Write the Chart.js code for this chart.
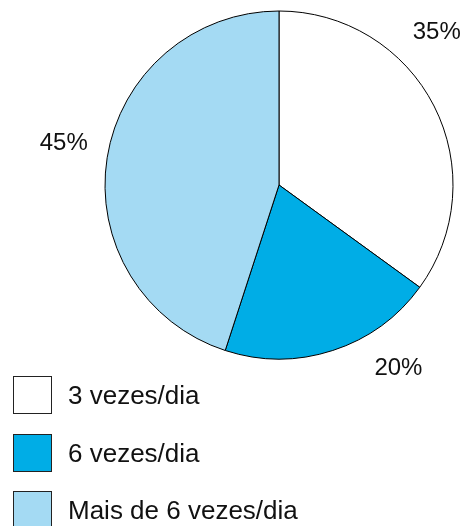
<!DOCTYPE html>
<html>
<head>
<meta charset="utf-8">
<script src="https://cdn.jsdelivr.net/npm/chart.js@4"></script>
<style>
  html, body { margin: 0; padding: 0; background: #fff; }
  #wrap { position: relative; width: 462px; height: 526px; overflow: hidden; }
  #legend { position: absolute; left: 13px; top: 376px; font-family: "Liberation Sans", Arial, sans-serif; font-size: 26px; color: #111; }
  .item { position: absolute; left: 0; height: 38px; white-space: nowrap; }
  .box { position: absolute; left: 0; top: 0; width: 37px; height: 36px; border: 1px solid #222; }
  .txt { position: absolute; left: 55px; top: 3px; line-height: 32px; }
</style>
</head>
<body>
<div id="wrap">
  <canvas id="pieChart" width="462" height="526"></canvas>
  <div id="legend"></div>
</div>
<script>
// dados
let labels = ["3 vezes/dia", "6 vezes/dia", "Mais de 6 vezes/dia"];
let values = [35, 20, 45];
let colors = ["#ffffff", "#00ade6", "#a4daf3"];

// posição dos rótulos (graus a partir do topo, distância em raios)
let labelAngles = [46, 147, 281];
let labelDist = 1.26;

let pctLabels = {
    id: "pctLabels",
    afterDatasetsDraw: function(chart){
        let ctx = chart.ctx;
        let meta = chart.getDatasetMeta(0);
        let arc = meta.data[0];
        ctx.save();
        ctx.font = "24px 'Liberation Sans', Arial, sans-serif";
        ctx.fillStyle = "#111";
        ctx.textAlign = "center";
        ctx.textBaseline = "middle";
        for(let i = 0; i < values.length; i++){
            let a = labelAngles[i] * Math.PI / 180;
            let r = arc.outerRadius * labelDist;
            ctx.fillText(values[i] + "%", arc.x + Math.sin(a) * r, arc.y - Math.cos(a) * r);
        }
        ctx.restore();
    }
};

let renderPieChart = function(component, labels, data){
    let ctx = document.querySelector(component).getContext("2d");
    let myChart = new Chart(ctx, {
        type: "pie",
        data: {
            labels: labels,
            datasets: [{
                backgroundColor: colors,
                borderColor: "#000",
                borderWidth: 1,
                data: data
            }]
        },
        options: {
            responsive: false,
            animation: false,
            radius: 174,
            layout: { padding: { left: 96, right: 0, top: 0, bottom: 156 } },
            plugins: {
                legend: { display: false },
                tooltip: { enabled: false }
            }
        },
        plugins: [pctLabels]
    });
    return myChart;
};

let renderLegend = function(){
    let el = document.getElementById("legend");
    for(let i = 0; i < labels.length; i++){
        let item = document.createElement("div");
        item.className = "item";
        item.style.top = (i * 57.5) + "px";
        let box = document.createElement("div");
        box.className = "box";
        box.style.background = colors[i];
        let txt = document.createElement("div");
        txt.className = "txt";
        txt.textContent = labels[i];
        item.appendChild(box);
        item.appendChild(txt);
        el.appendChild(item);
    }
};

renderPieChart("#pieChart", labels, values);
renderLegend();
</script>
</body>
</html>
